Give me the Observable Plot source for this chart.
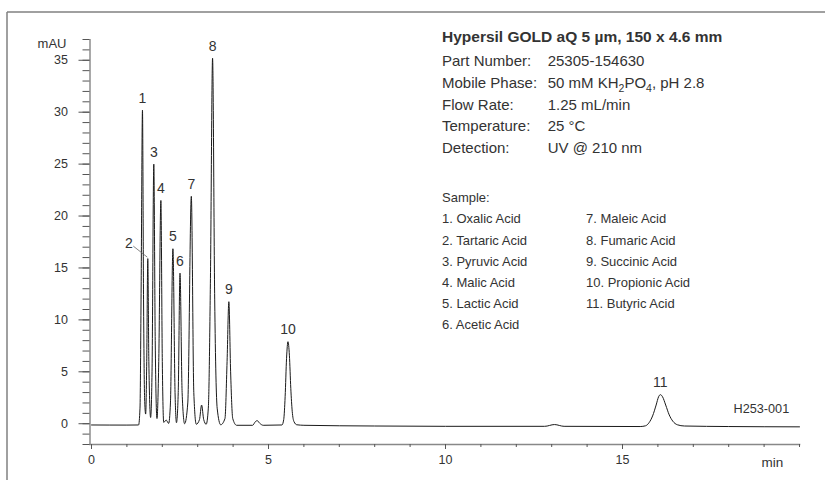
<!DOCTYPE html>
<html>
<head>
<meta charset="utf-8">
<script src="https://cdn.jsdelivr.net/npm/d3@7"></script>
<script src="https://cdn.jsdelivr.net/npm/@observablehq/plot@0.6"></script>
<style>
  html, body { margin: 0; padding: 0; background: #fff; }
</style>
</head>
<body>
<div id="chart"></div>
<script>
// ---- data ----
const traceTime = [
  0, 1.0, 1.33, 1.37, 1.40, 1.44, 1.47, 1.50, 1.53, 1.56, 1.59, 1.62, 1.67, 1.71, 1.76, 1.80,
  1.85, 1.90, 1.96, 2.00, 2.04, 2.11, 2.18, 2.23, 2.30, 2.36, 2.40, 2.45, 2.50, 2.56, 2.63,
  2.72, 2.82, 2.89, 2.96, 3.05, 3.11, 3.17, 3.24, 3.30, 3.36, 3.42, 3.48, 3.55, 3.65, 3.77,
  3.83, 3.88, 3.93, 3.99, 4.10, 4.55, 4.63, 4.68, 4.75, 4.85, 5.38, 5.43, 5.47, 5.51, 5.55,
  5.59, 5.63, 5.67, 5.72, 5.80, 6.0, 8.0, 10.0, 12.8, 13.08, 13.35, 15.5, 15.65, 15.75, 15.85,
  15.95, 16.02, 16.07, 16.13, 16.22, 16.32, 16.42, 16.55, 16.75, 18.0, 20.0
];
const traceSignal = [
  -0.12, -0.13, -0.12, 1.5, 12, 30.2, 12, 2.5, 0.93, 6, 15.9, 6, 0.6, 5, 25.0, 8,
  0.5, 6, 21.5, 6, 0.13, 0.35, 0.03, 2, 16.85, 3, 0.1, 3, 14.5, 3, 0.0,
  2, 21.9, 3, -0.05, 0.4, 1.8, 0.4, -0.05, 1.5, 14, 35.2, 12, 1.5, -0.1, 0.5,
  6, 11.75, 5, 0.5, -0.15, -0.15, 0.2, 0.3, 0.05, -0.15, -0.12, 0.4, 2.6, 6.3, 7.9,
  6.6, 3.4, 1.2, 0.2, -0.1, -0.15, -0.22, -0.25, -0.25, -0.08, -0.25, -0.27, -0.2, 0.1, 0.75,
  1.8, 2.6, 2.8, 2.6, 1.8, 0.85, 0.25, -0.1, -0.22, -0.27, -0.3
];
const peakNumbers = ["1", "2", "3", "4", "5", "6", "7", "8", "9", "10", "11"];
const peakTimes = [1.44, 1.59, 1.76, 1.96, 2.30, 2.50, 2.82, 3.42, 3.88, 5.55, 16.07];
const peakHeights = [30.2, 15.9, 25.0, 21.5, 16.85, 14.5, 21.9, 35.2, 11.75, 7.9, 2.8];
const compoundNames = [
  "Oxalic Acid", "Tartaric Acid", "Pyruvic Acid", "Malic Acid", "Lactic Acid", "Acetic Acid",
  "Maleic Acid", "Fumaric Acid", "Succinic Acid", "Propionic Acid", "Butyric Acid"
];
const xMajorTicks = [0, 5, 10, 15];
const xMinorTicks = [0,1,2,3,4,5,6,7,8,9,10,11,12,13,14,15,16,17,18,19,20];
const yMajorTicks = [0, 5, 10, 15, 20, 25, 30, 35];
const yMinorTicks = [-2,-1,0,1,2,3,4,5,6,7,8,9,10,11,12,13,14,15,16,17,18,19,20,21,22,23,24,25,26,27,28,29,30,31,32,33,34,35,36,37];
const columnTitle = "Hypersil GOLD aQ 5 µm, 150 x 4.6 mm";
const conditionLabels = ["Part Number:", "Mobile Phase:", "Flow Rate:", "Temperature:", "Detection:"];
const conditionValues = ["25305-154630", "50 mM KH₂PO₄, pH 2.8", "1.25 mL/min", "25 °C", "UV @ 210 nm"];
const sampleHeading = "Sample:";
const yUnit = "mAU";
const xUnit = "min";
const figureCode = "H253-001";

// ---- build ----
const FONT = "'Liberation Sans', Arial, Helvetica, sans-serif";
const TEXT = "#333";
const trace = traceTime.map((t, i) => ({t, v: traceSignal[i]}));
const peaks = peakNumbers.map((n, i) => ({n, t: peakTimes[i], h: peakHeights[i]}));
const peak2 = peaks.find(d => d.n === "2");

const leader = (index, scales) => {
  const x = scales.x(peak2.t), y = scales.y(peak2.h);
  return d3.create("svg:line")
    .attr("x1", x - 14).attr("y1", y - 12)
    .attr("x2", x).attr("y2", y - 1)
    .attr("stroke", "#666").attr("stroke-width", 0.8).node();
};

const chart = Plot.plot({
  width: 825,
  height: 480,
  marginLeft: 89.5,
  marginRight: 26,
  marginTop: 39,
  marginBottom: 36,
  insetLeft: 1.5,
  x: {domain: [0, 20]},
  y: {domain: [-2, 37]},
  style: {fontFamily: FONT, background: "#fff", color: TEXT, overflow: "visible"},
  marks: [
    Plot.frame({anchor: "left", stroke: "#555", strokeWidth: 1}),
    Plot.frame({anchor: "bottom", stroke: "#888", strokeWidth: 1.6}),
    Plot.axisY({ticks: yMinorTicks, tickSize: 7, tickFormat: () => "", label: null, stroke: "#555"}),
    Plot.axisY({ticks: yMajorTicks, tickSize: 11, tickPadding: 11, fontSize: 12.5, label: null, stroke: "#555", fill: TEXT}),
    Plot.axisX({ticks: xMinorTicks, tickSize: 3, tickFormat: () => "", label: null, stroke: "#555"}),
    Plot.axisX({ticks: xMajorTicks, tickSize: 5, tickPadding: 6, fontSize: 12.5, label: null, stroke: "#555", fill: TEXT}),
    Plot.line(trace, {x: "t", y: "v", stroke: "#1a1a1a", strokeWidth: 1, curve: "monotone-x"}),
    Plot.text(peaks.filter(d => d.n !== "2"), {x: "t", y: "h", text: "n", dy: -12, fontSize: 14, fill: TEXT, lineAnchor: "middle"}),
    Plot.text([peak2], {x: "t", y: "h", text: "n", dx: -19, dy: -15, fontSize: 14, fill: TEXT, lineAnchor: "middle"}),
    leader
  ]
});

document.getElementById("chart").appendChild(chart);

// ---- annotations outside the plotting marks ----
const svg = d3.select(chart);
const g = svg.append("g").attr("fill", TEXT).attr("font-family", FONT).attr("text-anchor", "start");

// partial outer frame (top and left edges)
g.append("line").attr("x1", 7).attr("y1", 12).attr("x2", 825).attr("y2", 12).attr("stroke", "#808080").attr("stroke-width", 1.5);
g.append("line").attr("x1", 7).attr("y1", 12).attr("x2", 7).attr("y2", 480).attr("stroke", "#808080").attr("stroke-width", 1.5);

g.append("text").attr("x", 66.5).attr("y", 48.3).attr("text-anchor", "end").attr("font-size", 13).text(yUnit);
g.append("text").attr("x", 772.5).attr("y", 466.5).attr("text-anchor", "middle").attr("font-size", 13.5).text(xUnit);
g.append("text").attr("x", 733.5).attr("y", 412.7).attr("font-size", 12.7).text(figureCode);

g.append("text").attr("x", 442).attr("y", 41.7).attr("font-weight", "bold").attr("font-size", 15.5).text(columnTitle);

const subMap = {"₀":"0","₁":"1","₂":"2","₃":"3","₄":"4","₅":"5","₆":"6","₇":"7","₈":"8","₉":"9"};
conditionLabels.forEach((lab, i) => {
  const y = 65.7 + i * 21.9;
  g.append("text").attr("x", 442).attr("y", y).attr("font-size", 15).text(lab);
  const t = g.append("text").attr("x", 547.7).attr("y", y).attr("font-size", 15);
  const parts = conditionValues[i].split(/([₀-₉])/).filter(s => s !== "");
  let shifted = false;
  parts.forEach(p => {
    if (subMap[p]) {
      t.append("tspan").attr("dy", shifted ? 0 : 4).attr("font-size", 10.5).text(subMap[p]);
      shifted = true;
    } else {
      t.append("tspan").attr("dy", shifted ? -4 : 0).text(p);
      shifted = false;
    }
  });
});

g.append("text").attr("x", 442).attr("y", 201.7).attr("font-size", 13).text(sampleHeading);
compoundNames.forEach((name, i) => {
  const col = i < 6 ? 0 : 1;
  const row = i < 6 ? i : i - 6;
  g.append("text")
    .attr("x", col ? 586 : 442)
    .attr("y", 223.3 + row * 21.2)
    .attr("font-size", 13)
    .text(`${peakNumbers[i]}. ${name}`);
});
</script>
</body>
</html>
